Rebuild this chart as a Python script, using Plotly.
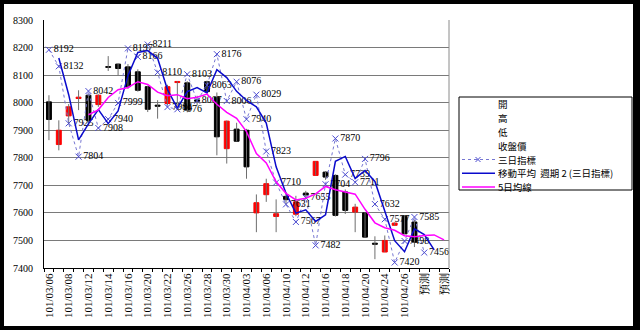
import plotly.graph_objects as go

# ---------------- data ----------------
dates = ["101/03/06", "101/03/07", "101/03/08", "101/03/09", "101/03/12", "101/03/13",
         "101/03/14", "101/03/15", "101/03/16", "101/03/19", "101/03/20", "101/03/21",
         "101/03/22", "101/03/23", "101/03/26", "101/03/27", "101/03/28", "101/03/29",
         "101/03/30", "101/04/02", "101/04/03", "101/04/05", "101/04/06", "101/04/09",
         "101/04/10", "101/04/11", "101/04/12", "101/04/13", "101/04/16", "101/04/17",
         "101/04/18", "101/04/19", "101/04/20", "101/04/23", "101/04/24", "101/04/25",
         "101/04/26", "101/04/27", "預測", "預測", "預測"]

open_ = [8003, 7848, 7952, 8015, 8027, 7993, 8131, 8140, 8130, 8112, 8058, 7991, 7997,
         8073, 8072, 8010, 8076, 8020, 7833, 7904, 7900, 7600, 7666, 7587, 7660, 7595,
         7672, 7736, 7748, 7736, 7676, 7603, 7600, 7490, 7458, 7555, 7588, 7567]
high = [8027, 7936, 7995, 8045, 8030, 8030, 8169, 8142, 8140, 8121, 8062, 8009, 8065,
        8078, 8078, 8025, 8080, 8037, 7935, 7927, 7905, 7667, 7724, 7649, 7670, 7662,
        7680, 7787, 7752, 7740, 7685, 7633, 7603, 7515, 7518, 7565, 7590, 7575]
low = [7864, 7827, 7921, 7973, 7915, 7985, 8115, 8100, 8050, 8040, 7966, 7942, 7990,
       7998, 7965, 7990, 8035, 7809, 7779, 7860, 7724, 7530, 7640, 7530, 7632, 7588,
       7655, 7736, 7720, 7587, 7596, 7530, 7512, 7432, 7458, 7555, 7524, 7476]
close = [7939, 7900, 7985, 8020, 7936, 8027, 8128, 8124, 8058, 8045, 7976, 7987, 8058,
         8077, 7973, 8005, 8040, 7876, 7933, 7860, 7767, 7637, 7706, 7597, 7648, 7640,
         7665, 7787, 7730, 7591, 7609, 7621, 7512, 7486, 7500, 7563, 7524, 7494]

three_day = [8192, 8132, 7925, 7804, 8042, 7908, 7940, 7999, 8197, 8166, 8211, 8110,
             7984, 7976, 8103, 8007, 8063, 8176, 8006, 8076, 7940, 8029, 7823, 7710,
             7631, 7567, 7655, 7482, 7704, 7870, 7739, 7711, 7796, 7632, 7577, 7420,
             7498, 7585, 7456]

ma2 = [8162, 8029, 7865, 7923, 7975, 7924, 7970, 8098, 8182, 8189, 8161, 8047, 7980,
       8040, 8055, 8035, 8120, 8091, 8041, 8008, 7985, 7926, 7767, 7671, 7599, 7611,
       7569, 7593, 7787, 7805, 7725, 7754, 7714, 7605, 7499, 7459, 7542, 7521, 7466]

ma5 = [7956, 7974, 8019, 8047, 8055, 8076, 8066, 8038, 8025, 8029, 8014, 8020, 8031,
       7994, 7965, 7943, 7895, 7815, 7781, 7713, 7671, 7647, 7653, 7669, 7696, 7684,
       7676, 7668, 7613, 7564, 7546, 7537, 7517, 7513, 7518, 7520, 7502]

y_ticks = [7400, 7500, 7600, 7700, 7800, 7900, 8000, 8100, 8200, 8300]

legend_names = ["開", "高", "低", "收盤價", "三日指標", "移動平均  週期 2 (三日指標)", "5日均線"]

# ---------------- styles ----------------
RED = "#ff0000"
BLACK = "#000000"
WICK = "#6e6e6e"
DOT = "#7676d2"
XMARK = "#4b4bd0"
BLUE = "#0a0acc"
MAGENTA = "#ff00ff"
SERIF = "Liberation Serif, Times New Roman, serif"
CJK = "Noto Sans CJK TC, Noto Sans CJK SC, sans-serif"

W, H = 640, 330
ML, MR, MT, MB = 44, 191, 20, 62
PW, PH = W - ML - MR, H - MT - MB


def px(xp):
    return (xp - ML) / PW


def py(yp):
    return (H - MB - yp) / PH


x_all = list(range(len(dates)))
xc = x_all[:len(close)]

fig = go.Figure()

# wicks
wx, wy = [], []
for i, (hv, lv) in enumerate(zip(high, low)):
    wx += [i, i, None]
    wy += [lv, hv, None]
fig.add_trace(go.Scatter(x=wx, y=wy, mode="lines", line=dict(color=WICK, width=1),
                         hoverinfo="skip", showlegend=False))

# bodies
base = [min(o, c) for o, c in zip(open_, close)]
hgt = [abs(c - o) for o, c in zip(open_, close)]
cols = [RED if c >= o else BLACK for o, c in zip(open_, close)]
fig.add_trace(go.Bar(x=xc, y=hgt, base=base, width=0.5,
                     marker=dict(color=cols, line=dict(color=cols, width=1)),
                     showlegend=False))

# three-day indicator
fig.add_trace(go.Scatter(
    x=x_all[:len(three_day)], y=three_day, mode="lines+markers+text",
    text=[str(v) for v in three_day], textposition="middle right",
    textfont=dict(family=SERIF, size=10, color="black"),
    line=dict(color=DOT, width=1, dash="dot"),
    marker=dict(symbol="x-thin", size=6, color=XMARK, line=dict(color=XMARK, width=1)),
    cliponaxis=False, showlegend=False))

# moving average period 2
fig.add_trace(go.Scatter(x=x_all[1:1 + len(ma2)], y=ma2, mode="lines",
                         line=dict(color=BLUE, width=1.5), showlegend=False))

# 5-day MA
fig.add_trace(go.Scatter(x=x_all[4:4 + len(ma5)], y=ma5, mode="lines",
                         line=dict(color=MAGENTA, width=1.5), showlegend=False))

shapes = [
    # white chart area inside black frame
    dict(type="rect", xref="paper", yref="paper", x0=px(4), x1=px(633), y0=py(326), y1=py(4),
         fillcolor="white", line=dict(width=0), layer="below"),
    # right border of plot area
    dict(type="line", xref="paper", yref="paper", x0=1, x1=1, y0=0, y1=1,
         line=dict(color="#8a8a8a", width=1)),
    # legend box
    dict(type="rect", xref="paper", yref="paper", x0=px(459), x1=px(632), y0=py(190), y1=py(97),
         fillcolor="white", line=dict(color="black", width=1)),
]

leg_y = [104.3, 118.1, 131.9, 145.7, 159.5, 173.3, 187.1]
annotations = []
for name, yy in zip(legend_names, leg_y):
    annotations.append(dict(xref="paper", yref="paper", x=px(497), y=py(yy), text=name,
                            showarrow=False, xanchor="left", yanchor="middle", borderpad=0,
                            font=dict(family=CJK, size=9.5, color="black")))

# legend symbols
shapes.append(dict(type="line", xref="paper", yref="paper", x0=px(462), x1=px(495),
                   y0=py(leg_y[4]), y1=py(leg_y[4]), line=dict(color=DOT, width=1, dash="dot")))
for dx, dy in [(1, 1), (1, -1)]:
    shapes.append(dict(type="line", xref="paper", yref="paper",
                       x0=px(478 - 2.5 * dx), x1=px(478 + 2.5 * dx),
                       y0=py(leg_y[4] - 2.5 * dy), y1=py(leg_y[4] + 2.5 * dy),
                       line=dict(color=XMARK, width=1)))
shapes.append(dict(type="line", xref="paper", yref="paper", x0=px(462), x1=px(495),
                   y0=py(leg_y[5]), y1=py(leg_y[5]), line=dict(color=BLUE, width=1.5)))
shapes.append(dict(type="line", xref="paper", yref="paper", x0=px(462), x1=px(495),
                   y0=py(leg_y[6]), y1=py(leg_y[6]), line=dict(color=MAGENTA, width=1.5)))

fig.update_layout(
    width=W, height=H, margin=dict(l=ML, r=MR, t=MT, b=MB, pad=0),
    paper_bgcolor="black", plot_bgcolor="white", showlegend=False, barmode="overlay",
    shapes=shapes, annotations=annotations,
    xaxis=dict(range=[-0.5, len(dates) - 0.5], tickmode="array",
               tickvals=x_all[::2], ticktext=dates[::2], tickangle=-90,
               tickfont=dict(family=SERIF, size=11, color="black"),
               showgrid=False, zeroline=False, showline=True, linecolor="black", linewidth=1,
               ticks="",
               minor=dict(tickmode="array", tickvals=[i - 0.5 for i in range(len(dates) + 1)],
                          ticks="outside", ticklen=3, tickcolor="black", tickwidth=1,
                          showgrid=False)),
    yaxis=dict(range=[7400, 8300], tickmode="array", tickvals=y_ticks,
               ticktext=[str(v) for v in y_ticks],
               tickfont=dict(family=SERIF, size=10, color="black"),
               showgrid=True, gridcolor="#7a7a7a", gridwidth=1, zeroline=False,
               showline=True, linecolor="black", linewidth=1, ticks="",
               ticklabelstandoff=8),
)

fig.write_html("out.html")
